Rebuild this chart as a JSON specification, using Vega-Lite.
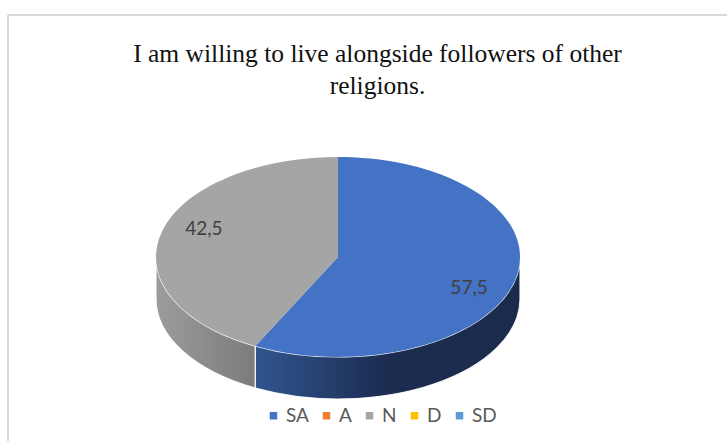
{
  "$schema": "https://vega.github.io/schema/vega-lite/v6.json",
  "autosize": "none",
  "width": 719,
  "height": 426,
  "padding": {"left": 8, "top": 15, "right": 0, "bottom": 0},
  "background": "white",
  "config": {"view": {"stroke": null}},
  "title": {
    "text": ["I am willing to live alongside followers of other", "religions."],
    "font": "Liberation Serif",
    "fontSize": 25.5,
    "fontWeight": "normal",
    "color": "#111111",
    "lineHeight": 32,
    "anchor": "middle",
    "frame": "group",
    "orient": "top",
    "baseline": "top",
    "offset": -85,
    "dx": 10
  },
  "params": [
    {"name": "rx", "value": 182},
    {"name": "ry", "value": 100},
    {"name": "depth", "value": 42},
    {"name": "cx", "value": 338},
    {"name": "cy", "value": 257}
  ],
  "data": {
    "values": [
      {"answer": "SA", "value": 57.5},
      {"answer": "A", "value": 0},
      {"answer": "N", "value": 42.5},
      {"answer": "D", "value": 0},
      {"answer": "SD", "value": 0}
    ]
  },
  "transform": [
    {"window": [{"op": "sum", "field": "value", "as": "cum"}], "ignorePeers": true},
    {"calculate": "(datum.cum - datum.value) / 100 * 2 * PI", "as": "a0"},
    {"calculate": "datum.cum / 100 * 2 * PI", "as": "a1"},
    {"calculate": "clamp(datum.a0, PI / 2, 3 * PI / 2)", "as": "w0"},
    {"calculate": "clamp(datum.a1, PI / 2, 3 * PI / 2)", "as": "w1"},
    {"calculate": "'M0,0L' + rx * sin(datum.a0) + ',' + (-ry * cos(datum.a0)) + 'A' + rx + ',' + ry + ' 0 ' + (datum.a1 - datum.a0 > PI ? 1 : 0) + ' 1 ' + rx * sin(datum.a1) + ',' + (-ry * cos(datum.a1)) + 'Z'", "as": "topPath"},
    {"calculate": "'M' + rx * sin(datum.w0) + ',' + (-ry * cos(datum.w0)) + 'A' + rx + ',' + ry + ' 0 0 1 ' + rx * sin(datum.w1) + ',' + (-ry * cos(datum.w1)) + 'L' + rx * sin(datum.w1) + ',' + (depth - ry * cos(datum.w1)) + 'A' + rx + ',' + ry + ' 0 0 0 ' + rx * sin(datum.w0) + ',' + (depth - ry * cos(datum.w0)) + 'Z'", "as": "wallPath"},
    {"calculate": "cx - 1.5 + 0.749 * rx * sin((datum.a0 + datum.a1) / 2)", "as": "labelX"},
    {"calculate": "cy + 1.5 - 1.27 * ry * cos((datum.a0 + datum.a1) / 2)", "as": "labelY"},
    {"calculate": "replace(format(datum.value, '.1f'), '.', ',')", "as": "label"}
  ],
  "encoding": {
    "x": {"type": "quantitative", "scale": {"domain": [8, 727]}, "axis": null},
    "y": {"type": "quantitative", "scale": {"domain": [15, 441], "reverse": true}, "axis": null}
  },
  "layer": [
    {
      "transform": [{"filter": "datum.answer === 'SA'"}],
      "mark": {"type": "rule", "stroke": "#d9d9d9", "strokeWidth": 2},
      "encoding": {"x": {"datum": 8, "type": "quantitative"}}
    },
    {
      "transform": [{"filter": "datum.answer === 'SA'"}],
      "mark": {"type": "rule", "stroke": "#d9d9d9", "strokeWidth": 2},
      "encoding": {"y": {"datum": 15, "type": "quantitative"}}
    },
    {
      "transform": [{"filter": "datum.answer === 'N'"}],
      "mark": {
        "type": "point", "filled": true, "opacity": 1, "size": 4,
        "stroke": "white", "strokeWidth": 1.2, "strokeOpacity": 0.9,
        "fill": {
          "gradient": "linear", "x1": 0, "y1": 0, "x2": 1, "y2": 0,
          "stops": [{"offset": 0, "color": "#9c9c9c"}, {"offset": 1, "color": "#7c7c7c"}]
        }
      },
      "encoding": {
        "x": {"datum": 338, "type": "quantitative"},
        "y": {"datum": 257, "type": "quantitative"},
        "shape": {"field": "wallPath", "type": "nominal", "scale": null}
      }
    },
    {
      "transform": [{"filter": "datum.answer === 'SA'"}],
      "mark": {
        "type": "point", "filled": true, "opacity": 1, "size": 4,
        "stroke": "white", "strokeWidth": 1.2, "strokeOpacity": 0.9,
        "fill": {
          "gradient": "linear", "x1": 0, "y1": 0, "x2": 1, "y2": 0,
          "stops": [{"offset": 0, "color": "#31558f"}, {"offset": 0.5, "color": "#1b2c50"}, {"offset": 1, "color": "#1a2b4c"}]
        }
      },
      "encoding": {
        "x": {"datum": 338, "type": "quantitative"},
        "y": {"datum": 257, "type": "quantitative"},
        "shape": {"field": "wallPath", "type": "nominal", "scale": null}
      }
    },
    {
      "transform": [{"filter": "datum.value > 0"}],
      "mark": {"type": "point", "filled": true, "opacity": 1, "size": 4},
      "encoding": {
        "x": {"datum": 338, "type": "quantitative"},
        "y": {"datum": 257, "type": "quantitative"},
        "shape": {"field": "topPath", "type": "nominal", "scale": null},
        "color": {
          "field": "answer",
          "type": "nominal",
          "scale": {
            "domain": ["SA", "A", "N", "D", "SD"],
            "range": ["#4472c4", "#ed7d31", "#a5a5a5", "#ffc000", "#5b9bd5"]
          },
          "legend": {
            "title": null,
            "orient": "none",
            "legendX": 256,
            "legendY": 391,
            "direction": "horizontal",
            "symbolType": "square",
            "symbolSize": 56,
            "symbolOpacity": 1,
            "symbolStrokeWidth": 0,
            "labelFont": "Lato",
            "labelFontSize": 19,
            "labelColor": "#595959",
            "labelOffset": 3,
            "columnPadding": 8
          }
        }
      }
    },
    {
      "transform": [{"filter": "datum.value > 0"}],
      "mark": {"type": "text", "font": "Lato", "fontSize": 19, "color": "#404040", "align": "center", "baseline": "middle"},
      "encoding": {
        "x": {"field": "labelX", "type": "quantitative"},
        "y": {"field": "labelY", "type": "quantitative"},
        "text": {"field": "label", "type": "nominal"}
      }
    }
  ]
}
